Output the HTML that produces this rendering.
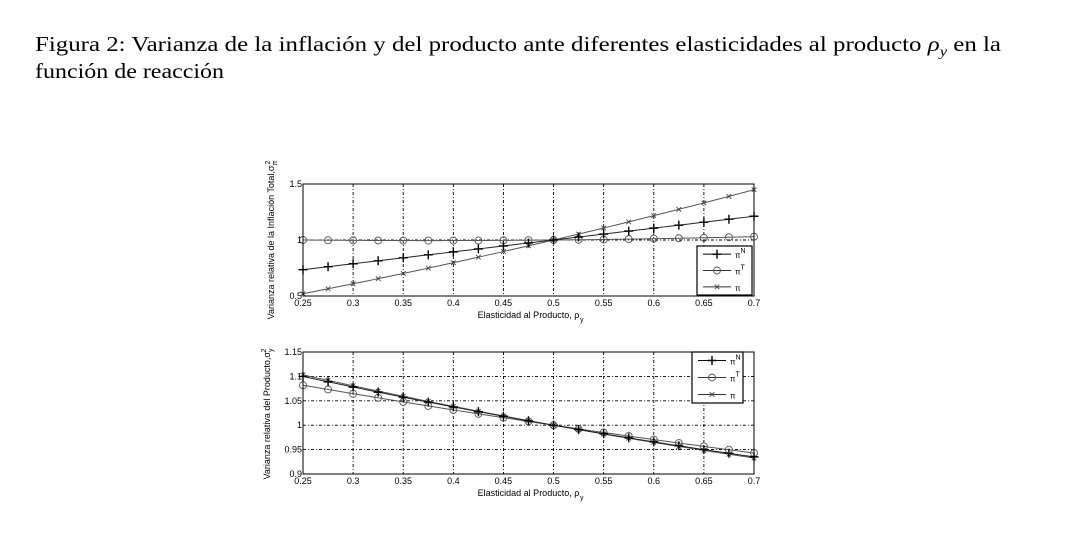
<!DOCTYPE html>
<html><head><meta charset="utf-8"><style>
html,body{margin:0;padding:0;background:#fff;width:1077px;height:538px;overflow:hidden}
svg{display:block}
</style></head><body>
<svg id="s" width="1077" height="538" xmlns="http://www.w3.org/2000/svg">
<text x="35" y="51" font-family="Liberation Serif, serif" font-size="21" textLength="966" lengthAdjust="spacingAndGlyphs">Figura 2: Varianza de la inflación y del producto ante diferentes elasticidades al producto <tspan font-style="italic">ρ</tspan><tspan font-style="italic" font-size="14" dy="5">y</tspan><tspan dy="-5"> en la</tspan></text>
<text x="35" y="78" font-family="Liberation Serif, serif" font-size="21" textLength="189" lengthAdjust="spacingAndGlyphs">función de reacción</text>
<g id="g"></g>
</svg>
<script>
var NS="http://www.w3.org/2000/svg",g=document.getElementById('g');
function el(t,a,txt){var e=document.createElementNS(NS,t);for(var k in a)e.setAttribute(k,a[k]);if(txt!==undefined)e.textContent=txt;g.appendChild(e);return e;}
function ts(p,txt,a){var e=document.createElementNS(NS,'tspan');for(var k in a)e.setAttribute(k,a[k]);e.textContent=txt;p.appendChild(e);return e;}
var X0=303,X1=754;
function px(x){return X0+(x-0.25)/0.45*(X1-X0);}
function panel(top,bot,ymin,ymax,yt,ylabels,series,leg,ylab,sub,ylabY,ylabX){
 function py(y){return bot-(y-ymin)/(ymax-ymin)*(bot-top);}
 var xs=[0.3,0.35,0.4,0.45,0.5,0.55,0.6,0.65];
 xs.forEach(function(x){el('line',{x1:px(x),x2:px(x),y1:top,y2:bot,stroke:'#000','stroke-width':0.9,'stroke-dasharray':'3,2,1,2'});});
 yt.forEach(function(y){el('line',{x1:X0,x2:X1,y1:py(y),y2:py(y),stroke:'#000','stroke-width':0.9,'stroke-dasharray':'3,2,1,2'});});
 series.forEach(function(s){
  var d='';for(var i=0;i<=90;i++){var x=0.25+i*0.005;d+=(i?'L':'M')+px(x).toFixed(2)+','+py(s.f(x)).toFixed(2);}
  el('path',{d:d,fill:'none',stroke:s.c,'stroke-width':1});
  for(var i=0;i<=18;i++){var x=0.25+i*0.025;mk(s.m,px(x),py(s.f(x)));}
 });
 el('rect',{x:X0,y:top,width:X1-X0,height:bot-top,fill:'none',stroke:'#000','stroke-width':1});
 var xl=['0.25','0.3','0.35','0.4','0.45','0.5','0.55','0.6','0.65','0.7'];
 xl.forEach(function(t,i){var x=0.25+i*0.05;el('text',{x:px(x),y:bot+10,'font-family':'Liberation Sans,sans-serif','font-size':9,'text-anchor':'middle'},t);});
 ylabels.forEach(function(p){el('text',{x:X0-1,y:py(p[0])+3,'font-family':'Liberation Sans,sans-serif','font-size':9,'text-anchor':'end'},p[1]);});
 el('text',{x:(X0+X1)/2,y:bot+22,'font-family':'Liberation Sans,sans-serif','font-size':9,'text-anchor':'middle'},'Elasticidad al Producto, ρ');
 el('text',{x:580,y:bot+26,'font-family':'Liberation Sans,sans-serif','font-size':7},'y');
 var t=el('text',{x:0,y:0,'font-family':'Liberation Sans,sans-serif','font-size':9,'text-anchor':'middle',transform:'translate('+ylabX+','+ylabY+') rotate(-90)'},ylab+'σ');
 ts(t,sub,{dy:3,'font-size':7});ts(t,'2',{dx:-4,dy:-7,'font-size':7});
 el('rect',{x:leg[0],y:leg[1],width:leg[2],height:leg[3],fill:'#fff',stroke:'#000','stroke-width':1.2});
 var labs=[['+','N'],['o','T'],['x','']];
 labs.forEach(function(l,i){var y=leg[1]+leg[3]*(i+0.5)/3;el('line',{x1:leg[0]+6,x2:leg[0]+34,y1:y,y2:y,stroke:i==0?'#000':'#333','stroke-width':1});mk(l[0],leg[0]+20,y);
  var tx=el('text',{x:leg[0]+38,y:y+4,'font-family':'Liberation Sans,sans-serif','font-size':8},'π');if(l[1]){ts(tx,l[1],{dy:-5,'font-size':7});}});
}
function mk(m,x,y){
 if(m=='+'){el('path',{d:'M'+(x-4.5)+','+y+'h9M'+x+','+(y-4.5)+'v9',stroke:'#000','stroke-width':1.4});}
 else if(m=='o'){el('circle',{cx:x,cy:y,r:3.5,fill:'none',stroke:'#555','stroke-width':0.9});}
 else {el('path',{d:'M'+(x-2.3)+','+(y-2.3)+'l4.6,4.6M'+(x-2.3)+','+(y+2.3)+'l4.6,-4.6',stroke:'#444','stroke-width':0.9});}
}
function q(a,b){return function(x){var u=x-0.5;return 1+a*u+b*u*u;};}
panel(184,296,0.5,1.5,[1],[[1.5,'1.5'],[1,'1'],[0.5,'0.5']],
 [{f:q(0.083,0.333),m:'o',c:'#555'},{f:q(2.1,0.73),m:'x',c:'#555'},{f:q(1.06,0),m:'+',c:'#222'}],
 [697,246,55,49],'Varianza relativa de la Inflación Total,','π',240,274);
panel(352,474,0.9,1.15,[1.1,1.05,1,0.95],[[1.15,'1.15'],[1.1,'1.1'],[1.05,'1.05'],[1,'1'],[0.95,'0.95'],[0.9,'0.9']],
 [{f:q(-0.304,0.0956),m:'o',c:'#555'},{f:q(-0.37,0.17),m:'x',c:'#555'},{f:q(-0.358,0.167),m:'+',c:'#222'}],
 [692,352,51,51],'Varianza relativa del Producto,','y',414,270);
</script>
</body></html>
